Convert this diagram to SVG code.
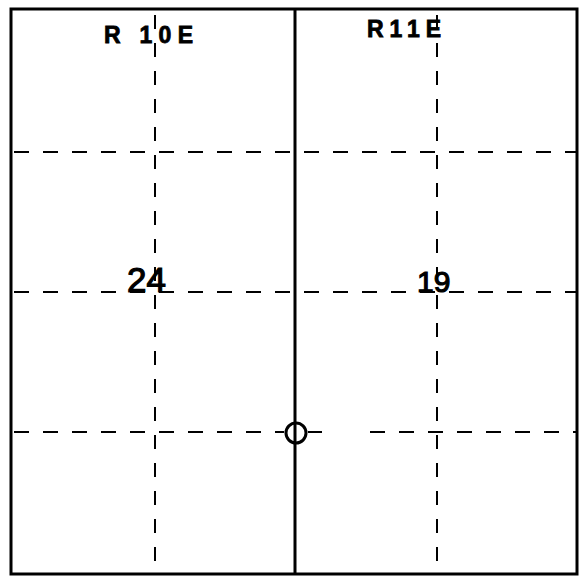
<svg xmlns="http://www.w3.org/2000/svg" width="581" height="577" viewBox="0 0 581 577">
<style>
.dash{stroke:#000;stroke-width:2;stroke-dasharray:15 14;fill:none}
.solid{stroke:#000;fill:none}
.lbl{font-family:"Liberation Sans",Arial,sans-serif;font-weight:bold;fill:#000;stroke:#000;stroke-width:0.8}
.num{font-family:"Liberation Sans",Arial,sans-serif;fill:#000;stroke:#000;stroke-width:1.2}
</style>
<rect width="581" height="577" fill="#fff"/>
<g id="grid">
<line class="dash" x1="14" y1="152" x2="578" y2="152"/>
<line class="dash" x1="14" y1="292" x2="578" y2="292"/>
<line class="dash" x1="14" y1="432" x2="284" y2="432"/>
<line class="dash" x1="308" y1="432" x2="322" y2="432" style="stroke-dasharray:none"/>
<line class="dash" x1="370" y1="432" x2="578" y2="432"/>
<line class="dash" x1="155" y1="12" x2="155" y2="574" style="stroke-dasharray:14 14;stroke-dashoffset:-3"/>
<line class="dash" x1="437" y1="12" x2="437" y2="574" style="stroke-dasharray:14 14;stroke-dashoffset:-3"/>
</g>
<g id="frame">
<rect class="solid" x="11" y="9" width="566" height="565" stroke-width="3"/>
<line class="solid" x1="295" y1="9" x2="295" y2="574" stroke-width="3"/>
</g>
<g id="marker">
<circle class="solid" cx="296" cy="433" r="10" stroke-width="3"/>
</g>
<g id="labels">
<text class="lbl" x="104" y="43" font-size="23" textLength="89" lengthAdjust="spacing">R 10E</text>
<text class="lbl" x="367" y="37" font-size="23" textLength="74" lengthAdjust="spacing">R11E</text>
<text class="num" x="127" y="292" font-size="35">24</text>
<text class="num" x="417" y="292" font-size="30">19</text>
</g>
</svg>
